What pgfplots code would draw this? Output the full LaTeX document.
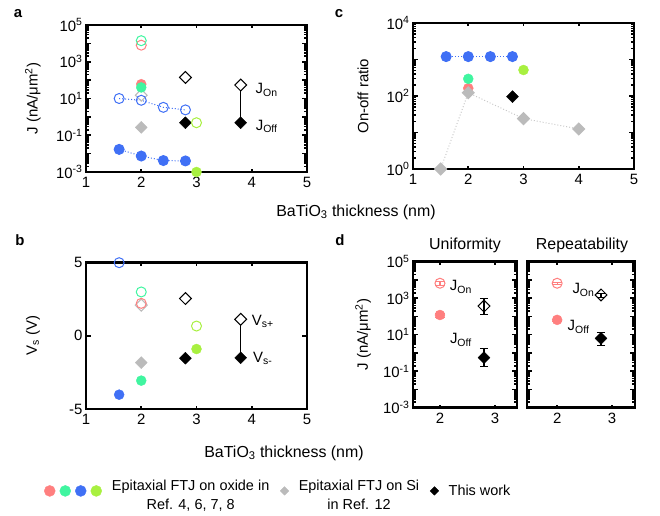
\documentclass[border=0pt]{standalone}
\usepackage{pgfplots}
\pgfplotsset{compat=1.18}
\usepackage{fontspec}
\setmainfont{Liberation Sans}
\definecolor{cred}{HTML}{FF7F7F}
\definecolor{cgreen}{HTML}{40F5A0}
\definecolor{cblue}{HTML}{4070F5}
\definecolor{clime}{HTML}{A8F040}
\definecolor{cgray}{HTML}{BBBBBB}
\newcommand{\fs}[1]{\fontsize{#1}{#1}\selectfont}
\pgfplotsset{
  panel/.style={
    scale only axis, clip=false, anchor=south west,
    axis line style={line width=2.4bp},
    tick align=inside,
    major tick length=5bp, minor tick length=3bp,
    tick style={line width=1.6bp, black},
    xtick style={/pgfplots/major tick length=3bp},
    tick label style={font=\fs{15}},
    label style={font=\fs{15}},
    /pgf/number format/assume math mode=true,
    xtick={1,2,3,4,5}, xmin=1, xmax=5,
    xticklabel style={yshift=-2bp},
  },
  fc/.style={only marks, mark=*, mark size=5bp, color=#1},
  oc/.style={only marks, mark=o, mark size=5bp, color=#1, mark options={line width=1bp}},
  fd/.style={only marks, mark=square*, mark size=4.2bp, color=#1, mark options={rotate=45}},
  od/.style={only marks, mark=square, mark size=4.2bp, color=#1, mark options={rotate=45, line width=1bp}},
  odw/.style={only marks, mark=square*, mark size=4.2bp, color=#1, mark options={rotate=45, line width=1bp, fill=white}},
}
\begin{document}
\begin{tikzpicture}
\path[use as bounding box] (0,0) rectangle (660bp,516bp);
% ---------- a ----------
\begin{axis}[panel, at={(86bp,344bp)}, width=221bp, height=147bp,
  ymode=log, ymin=1e-3, ymax=1e5,
  ytick={1e-3,1e-2,1e-1,1,10,100,1e3,1e4,1e5},
  yticklabels={{10\textsuperscript{-3}},{},{10\textsuperscript{-1}},{},{10\textsuperscript{1}},{},{10\textsuperscript{3}},{},{10\textsuperscript{5}}},
  minor ytick={}, ylabel={J (nA/μm\textsuperscript{2})},
  ylabel style={at={(axis description cs:-0.24,0.5)}, anchor=center}]
\addplot[od=cgray, forget plot] coordinates {(2,15)};
\addplot[oc=cred, forget plot] coordinates {(2,8000)};
\addplot[oc=cgreen, forget plot] coordinates {(2,14000)};
\addplot[fc=cred, forget plot] coordinates {(2,60)};
\addplot[fc=cgreen, forget plot] coordinates {(2,40)};
\addplot[cblue, dotted, line width=1bp, mark=o, mark size=5bp, mark options={solid, line width=1bp}, forget plot] coordinates {(1.6,10)(2,8)(2.4,3.3)(2.8,2.4)};
\addplot[cblue, dotted, line width=1bp, mark=*, mark size=5bp, mark options={solid}, forget plot] coordinates {(1.6,0.017)(2,0.0074)(2.4,0.0042)(2.8,0.004)};
\addplot[fd=cgray, forget plot] coordinates {(2,0.27)};
\addplot[od=black, forget plot] coordinates {(2.8,140)};
\addplot[fd=black, forget plot] coordinates {(2.8,0.48)};
\addplot[oc=clime, forget plot] coordinates {(3,0.48)};
\addplot[fc=clime, forget plot] coordinates {(3,0.001)};
\addplot[black, line width=1.2bp, forget plot] coordinates {(3.8,54)(3.8,0.48)};
\addplot[odw=black, forget plot] coordinates {(3.8,54)};
\addplot[fd=black, forget plot] coordinates {(3.8,0.48)};
\node[font=\fs{15}] at (axis cs:4.27,29) {J\textsubscript{On}};
\node[font=\fs{15}] at (axis cs:4.27,0.3) {J\textsubscript{Off}};
\end{axis}
% ---------- c ----------
\begin{axis}[panel, at={(413bp,347bp)}, width=221bp, height=146bp,
  ymode=log, ymin=1, ymax=1e4,
  ytick={1,10,100,1e3,1e4},
  yticklabels={{10\textsuperscript{0}},{},{10\textsuperscript{2}},{},{10\textsuperscript{4}}},
  ylabel={On-off ratio},
  ylabel style={at={(axis description cs:-0.226,0.5)}, anchor=center}]
\addplot[fc=cred, forget plot] coordinates {(2,163)};
\addplot[cgray!80, dotted, line width=1bp, mark=square*, mark size=4.2bp, mark options={solid, rotate=45, cgray}, forget plot] coordinates {(1.5,1)(2,123)(3,24)(4,12.5)};
\addplot[fc=cgreen, forget plot] coordinates {(2,295)};
\addplot[fc=clime, forget plot] coordinates {(3,515)};
\addplot[cblue, dotted, line width=1bp, mark=*, mark size=5bp, mark options={solid}, forget plot] coordinates {(1.6,1200)(2,1200)(2.4,1200)(2.8,1200)};
\addplot[fd=black, forget plot] coordinates {(2.8,96)};
\end{axis}
% ---------- b ----------
\begin{axis}[panel, at={(86bp,107bp)}, width=221bp, height=146.3bp,
  ymin=-5, ymax=5, ytick={-5,0,5}, yticklabels={-5,0,5},
  ylabel={V\textsubscript{s} (V)},
  ylabel style={at={(axis description cs:-0.24,0.5)}, anchor=center},
  legend style={at={(axis description cs:0.87,-0.56)}, anchor=center, draw=none, fill=none,
    legend columns=3, font=\fs{14.5},
    /tikz/every odd column/.append style={column sep=8bp},
    /tikz/every even column/.append style={column sep=9bp}},
  legend cell align=center]
\addlegendimage{legend image code/.code={
  \fill[cred] (-9bp,0) circle (5.5bp); \fill[cgreen] (6.5bp,0) circle (5.5bp);
  \fill[cblue] (22bp,0) circle (5.5bp); \fill[clime] (37.5bp,0) circle (5.5bp);}}
\addlegendentry{\begin{tabular}{@{}c@{}}Epitaxial FTJ on oxide in\\[4bp]Ref. 4, 6, 7, 8\end{tabular}}
\addlegendimage{only marks, mark=square*, mark size=3bp, cgray, mark options={rotate=45}}
\addlegendentry{\begin{tabular}{@{}c@{}}Epitaxial FTJ on Si\\[4bp]in Ref. 12\end{tabular}}
\addlegendimage{only marks, mark=square*, mark size=3bp, black, mark options={rotate=45}}
\addlegendentry{This work}
\addplot[oc=cblue, forget plot] coordinates {(1.6,5)};
\addplot[oc=cgreen, forget plot] coordinates {(2,3)};
\addplot[od=cgray, forget plot] coordinates {(2,2.1)};
\addplot[oc=cred, forget plot] coordinates {(2,2.22)};
\addplot[od=black, forget plot] coordinates {(2.8,2.55)};
\addplot[oc=clime, forget plot] coordinates {(3,0.67)};
\addplot[fc=clime, forget plot] coordinates {(3,-0.9)};
\addplot[fd=black, forget plot] coordinates {(2.8,-1.53)};
\addplot[fd=cgray, forget plot] coordinates {(2,-1.83)};
\addplot[fc=cgreen, forget plot] coordinates {(2,-3.06)};
\addplot[fc=cblue, forget plot] coordinates {(1.6,-4.02)};
\addplot[black, line width=1.2bp, forget plot] coordinates {(3.8,1.13)(3.8,-1.5)};
\addplot[odw=black, forget plot] coordinates {(3.8,1.13)};
\addplot[fd=black, forget plot] coordinates {(3.8,-1.5)};
\node[font=\fs{15}] at (axis cs:4.2,0.97) {V\textsubscript{s+}};
\node[font=\fs{15}] at (axis cs:4.2,-1.53) {V\textsubscript{s-}};
\end{axis}
% ---------- d left ----------
\begin{axis}[panel, at={(413bp,108.3bp)}, width=104bp, height=146bp,
  xmin=1.51, xmax=3.4, xtick={2,3},
  ymode=log, ymin=1e-3, ymax=1e5,
  ytick={1e-3,1e-2,1e-1,1,10,100,1e3,1e4,1e5},
  yticklabels={{10\textsuperscript{-3}},{},{10\textsuperscript{-1}},{},{10\textsuperscript{1}},{},{10\textsuperscript{3}},{},{10\textsuperscript{5}}},
  minor ytick={}, ylabel={J (nA/μm\textsuperscript{2})},
  ylabel style={at={(axis description cs:-0.48,0.5)}, anchor=center},
  error bars/error bar style={line width=1.2bp}]
\addplot[oc=cred, error bars/.cd, y dir=both, y explicit] coordinates {(2,6600) += (0,2000) -= (0,1500)};
\addplot[fc=cred, error bars/.cd, y dir=both, y explicit] coordinates {(2,120) += (0,40) -= (0,30)};
\addplot[od=black, error bars/.cd, y dir=both, y explicit] coordinates {(2.8,370) += (0,610) -= (0,235)};
\addplot[fd=black, error bars/.cd, y dir=both, y explicit] coordinates {(2.8,0.55) += (0,1.25) -= (0,0.37)};
\node[font=\fs{15}] at (axis cs:2.38,4100) {J\textsubscript{On}};
\node[font=\fs{15}] at (axis cs:2.38,5.1) {J\textsubscript{Off}};
\end{axis}
% ---------- d right ----------
\begin{axis}[panel, at={(527bp,108.3bp)}, width=108bp, height=146bp,
  xmin=1.45, xmax=3.42, xtick={2,3},
  ymode=log, ymin=1e-3, ymax=1e5,
  ytick={1e-3,1e-2,1e-1,1,10,100,1e3,1e4,1e5},
  yticklabels={}, minor ytick={},
  error bars/error bar style={line width=1.2bp}]
\addplot[oc=cred, error bars/.cd, y dir=both, y explicit] coordinates {(2,6600) += (0,600) -= (0,600)};
\addplot[fc=cred, error bars/.cd, y dir=both, y explicit] coordinates {(2,65) += (0,10) -= (0,10)};
\addplot[od=black, error bars/.cd, y dir=both, y explicit] coordinates {(2.8,1500) += (0,500) -= (0,400)};
\addplot[fd=black, error bars/.cd, y dir=both, y explicit] coordinates {(2.8,6.3) += (0,7.7) -= (0,3.5)};
\node[font=\fs{15}] at (axis cs:2.48,2800) {J\textsubscript{On}};
\node[font=\fs{15}] at (axis cs:2.39,27) {J\textsubscript{Off}};
\end{axis}
% ---------- labels ----------
\node[font=\bfseries\fs{15}] at (18bp,502bp) {a};
\node[font=\bfseries\fs{15}] at (339bp,502bp) {c};
\node[font=\bfseries\fs{15}] at (20bp,276bp) {b};
\node[font=\bfseries\fs{15}] at (340bp,276bp) {d};
\node[font=\fs{16}] at (356bp,304bp) {BaTiO\textsubscript{3} thickness (nm)};
\node[font=\fs{16}] at (284bp,63bp) {BaTiO\textsubscript{3} thickness (nm)};
\node[font=\fs{16}] at (465bp,271bp) {Uniformity};
\node[font=\fs{16}] at (582bp,271bp) {Repeatability};
\end{tikzpicture}
\end{document}
